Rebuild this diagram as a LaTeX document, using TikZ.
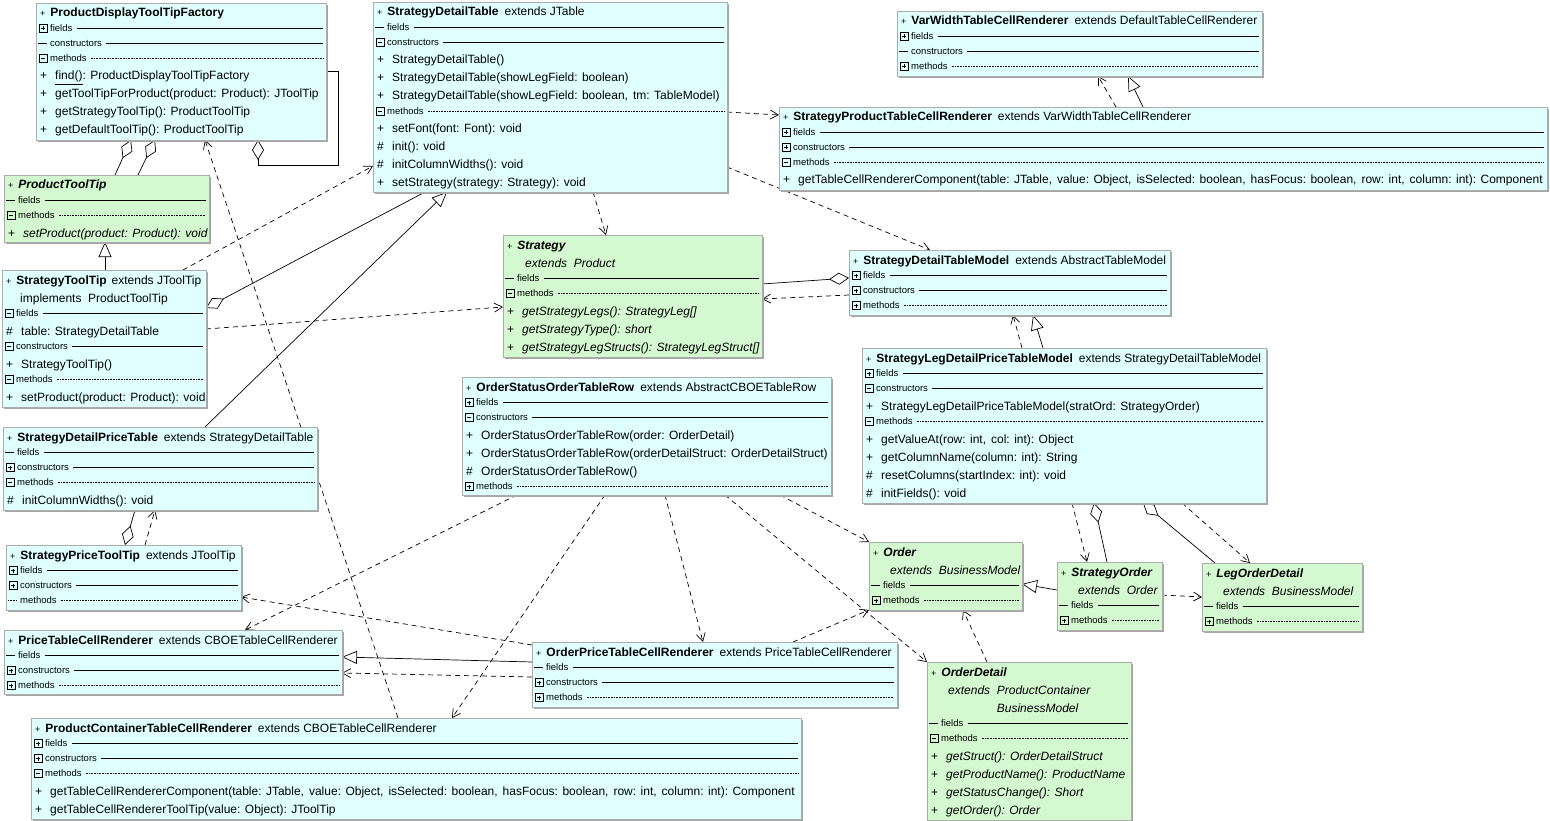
\documentclass[tikz,border=0pt]{standalone}
\usepackage{fontspec}
\setmainfont{Liberation Sans}
\usetikzlibrary{shapes,arrows.meta,shadows}

\definecolor{concretefill}{RGB}{224,255,255}
\definecolor{abstractfill}{RGB}{212,248,208}

\pgfdeclarelayer{edges}
\pgfsetlayers{edges,main}

\tikzstyle{classbox} = [rectangle, draw=gray!65, line width=0.6pt, inner sep=0pt, outer sep=0pt,
    anchor=north west, drop shadow={shadow xshift=1.6pt, shadow yshift=-1.6pt, fill=gray!70, opacity=1}]
\tikzstyle{rowtext} = [inner sep=0pt, anchor=base west, font=\fontsize{12}{14}\selectfont]
\tikzstyle{seclabel} = [inner sep=0pt, anchor=west, text height=6.5pt, text depth=0pt, font=\fontsize{9.5}{10}\selectfont]
\tikzstyle{secline} = [line width=0.6pt]
\tikzstyle{iconline} = [line width=0.6pt]
\tikzstyle{dep} = [draw, line width=0.7pt, dash pattern=on 5pt off 4pt, -{Straight Barb[length=8pt,width=9pt]}]
\tikzstyle{gen} = [draw, line width=0.7pt, -{Triangle[open,length=15pt,width=13pt]}]
\tikzstyle{aggr} = [draw, line width=0.7pt, -{Diamond[open,length=20pt,width=12pt]}]

% class box: name, left, top, right, bottom, fill
\newcommand{\classat}[6]{%
  \node[classbox, fill=#6, minimum width=#4pt-#2pt, minimum height=#5pt-#3pt] (#1) at (#2,#3) {};
  \def\clx{#2}\def\clr{#4}\def\cly{#3}}
\newcommand{\tplus}{{\fontsize{9}{10}\selectfont+}\hspace{5pt}}
\newcommand{\argsep}{,\hspace{5pt}}
\newcommand{\headrow}[1]{\node[rowtext] at (\clx+4,\cly+14) {#1};\pgfmathsetmacro\cly{\cly+18}}
\newcommand{\memrow}[2]{\node[rowtext] at (\clx+4,\cly+14) {#1};\node[rowtext] at (\clx+19,\cly+14) {#2};\pgfmathsetmacro\cly{\cly+18}}
\newcommand{\icop}{\draw[iconline] (\clx+3,\cly+3.5) rectangle (\clx+11,\cly+11.5);
  \draw[iconline] (\clx+5,\cly+7.5) -- (\clx+9,\cly+7.5) (\clx+7,\cly+5.5) -- (\clx+7,\cly+9.5);}
\newcommand{\icom}{\draw[iconline] (\clx+3,\cly+3.5) rectangle (\clx+11,\cly+11.5);
  \draw[iconline] (\clx+5,\cly+7.5) -- (\clx+9,\cly+7.5);}
\newcommand{\icoe}{\draw[iconline] (\clx+2,\cly+7.5) -- (\clx+11,\cly+7.5);}
\newcommand{\icod}{\draw[iconline,densely dotted] (\clx+2,\cly+7.5) -- (\clx+11,\cly+7.5);}
\newcommand{\secrow}[3]{\csname ico#1\endcsname
  \node[seclabel] (seclbl) at (\clx+14,\cly+7.5) {#2};
  \draw[secline,#3] ([xshift=4pt]seclbl.east) -- (\clr-3,\cly+7.5);
  \pgfmathsetmacro\cly{\cly+15}}

\begin{document}
\begin{tikzpicture}[x=1pt, y=-1pt]
    \useasboundingbox (0,0) rectangle (1550,821);
    % Place nodes
    \classat{PDTTF}{36}{3}{326}{140}{concretefill}
    \headrow{\tplus\textbf{ProductDisplayToolTipFactory}}
    \secrow{p}{fields}{}
    \secrow{e}{constructors}{}
    \secrow{m}{methods}{densely dotted}
    \memrow{+}{\underline{find()}: ProductDisplayToolTipFactory}
    \memrow{+}{getToolTipForProduct(product: Product): JToolTip}
    \memrow{+}{getStrategyToolTip(): ProductToolTip}
    \memrow{+}{getDefaultToolTip(): ProductToolTip}

    \classat{PTT}{4}{175}{209}{242}{abstractfill}
    \headrow{\tplus\textbf{\itshape ProductToolTip}}
    \secrow{e}{fields}{}
    \secrow{m}{methods}{densely dotted}
    \memrow{+}{\itshape setProduct(product: Product): void}

    \classat{STT}{2}{270}{206}{407}{concretefill}
    \headrow{\tplus\textbf{StrategyToolTip}\hspace{5pt}extends JToolTip}
    \headrow{\hspace{14pt}implements\ \ ProductToolTip}
    \secrow{m}{fields}{}
    \memrow{\#}{table: StrategyDetailTable}
    \secrow{m}{constructors}{}
    \memrow{+}{StrategyToolTip()}
    \secrow{m}{methods}{densely dotted}
    \memrow{+}{setProduct(product: Product): void}

    \classat{SDPT}{3}{427}{317}{510}{concretefill}
    \headrow{\tplus\textbf{StrategyDetailPriceTable}\hspace{6pt}extends StrategyDetailTable}
    \secrow{e}{fields}{}
    \secrow{p}{constructors}{}
    \secrow{m}{methods}{densely dotted}
    \memrow{\#}{initColumnWidths(): void}

    \classat{SPTT}{6}{545}{241}{610}{concretefill}
    \headrow{\tplus\textbf{StrategyPriceToolTip}\hspace{6pt}extends JToolTip}
    \secrow{p}{fields}{}
    \secrow{p}{constructors}{}
    \secrow{d}{methods}{densely dotted}

    \classat{PTCR}{4}{630}{342}{694}{concretefill}
    \headrow{\tplus\textbf{PriceTableCellRenderer}\hspace{6pt}extends CBOETableCellRenderer}
    \secrow{e}{fields}{}
    \secrow{p}{constructors}{}
    \secrow{p}{methods}{densely dotted}

    \classat{PCTCR}{31}{718}{801}{819}{concretefill}
    \headrow{\tplus\textbf{ProductContainerTableCellRenderer}\hspace{6pt}extends CBOETableCellRenderer}
    \secrow{p}{fields}{}
    \secrow{p}{constructors}{}
    \secrow{m}{methods}{densely dotted}
    \memrow{+}{getTableCellRendererComponent(table: JTable\argsep value: Object\argsep isSelected: boolean\argsep hasFocus: boolean\argsep row: int\argsep column: int): Component}
    \memrow{+}{getTableCellRendererToolTip(value: Object): JToolTip}

    \classat{SDT}{373}{2}{727}{192}{concretefill}
    \headrow{\tplus\textbf{StrategyDetailTable}\hspace{6pt}extends JTable}
    \secrow{e}{fields}{}
    \secrow{m}{constructors}{}
    \memrow{+}{StrategyDetailTable()}
    \memrow{+}{StrategyDetailTable(showLegField: boolean)}
    \memrow{+}{StrategyDetailTable(showLegField: boolean\argsep tm: TableModel)}
    \secrow{m}{methods}{densely dotted}
    \memrow{+}{setFont(font: Font): void}
    \memrow{\#}{init(): void}
    \memrow{\#}{initColumnWidths(): void}
    \memrow{+}{setStrategy(strategy: Strategy): void}

    \classat{VWTCR}{897}{11}{1262}{76}{concretefill}
    \headrow{\tplus\textbf{VarWidthTableCellRenderer}\hspace{6pt}extends DefaultTableCellRenderer}
    \secrow{p}{fields}{}
    \secrow{e}{constructors}{}
    \secrow{p}{methods}{densely dotted}

    \classat{SPTCR}{779}{107}{1547}{190}{concretefill}
    \headrow{\tplus\textbf{StrategyProductTableCellRenderer}\hspace{6pt}extends VarWidthTableCellRenderer}
    \secrow{p}{fields}{}
    \secrow{p}{constructors}{}
    \secrow{m}{methods}{densely dotted}
    \memrow{+}{getTableCellRendererComponent(table: JTable\argsep value: Object\argsep isSelected: boolean\argsep hasFocus: boolean\argsep row: int\argsep column: int): Component}

    \classat{STRAT}{503}{235}{762}{357}{abstractfill}
    \headrow{\tplus\textbf{\itshape Strategy}}
    \headrow{\hspace{18pt}\itshape extends\ \ Product}
    \secrow{e}{fields}{}
    \secrow{m}{methods}{densely dotted}
    \memrow{+}{\itshape getStrategyLegs(): StrategyLeg[]}
    \memrow{+}{\itshape getStrategyType(): short}
    \memrow{+}{\itshape getStrategyLegStructs(): StrategyLegStruct[]}

    \classat{SDTM}{849}{250}{1170}{315}{concretefill}
    \headrow{\tplus\textbf{StrategyDetailTableModel}\hspace{6pt}extends AbstractTableModel}
    \secrow{p}{fields}{}
    \secrow{p}{constructors}{}
    \secrow{p}{methods}{densely dotted}

    \classat{SLDPTM}{862}{348}{1266}{503}{concretefill}
    \headrow{\tplus\textbf{StrategyLegDetailPriceTableModel}\hspace{6pt}extends StrategyDetailTableModel}
    \secrow{p}{fields}{}
    \secrow{m}{constructors}{}
    \memrow{+}{StrategyLegDetailPriceTableModel(stratOrd: StrategyOrder)}
    \secrow{m}{methods}{densely dotted}
    \memrow{+}{getValueAt(row: int\argsep col: int): Object}
    \memrow{+}{getColumnName(column: int): String}
    \memrow{\#}{resetColumns(startIndex: int): void}
    \memrow{\#}{initFields(): void}

    \classat{OSOTR}{462}{377}{831}{495}{concretefill}
    \headrow{\tplus\textbf{OrderStatusOrderTableRow}\hspace{6pt}extends AbstractCBOETableRow}
    \secrow{p}{fields}{}
    \secrow{m}{constructors}{}
    \memrow{+}{OrderStatusOrderTableRow(order: OrderDetail)}
    \memrow{+}{OrderStatusOrderTableRow(orderDetailStruct: OrderDetailStruct)}
    \memrow{\#}{OrderStatusOrderTableRow()}
    \secrow{p}{methods}{densely dotted}

    \classat{OPTCR}{532}{642}{897}{707}{concretefill}
    \headrow{\tplus\textbf{OrderPriceTableCellRenderer}\hspace{6pt}extends PriceTableCellRenderer}
    \secrow{e}{fields}{}
    \secrow{p}{constructors}{}
    \secrow{p}{methods}{densely dotted}

    \classat{ORD}{869}{542}{1022}{610}{abstractfill}
    \headrow{\tplus\textbf{\itshape Order}}
    \headrow{\hspace{17pt}\itshape extends\ \ BusinessModel}
    \secrow{e}{fields}{}
    \secrow{p}{methods}{densely dotted}

    \classat{SO}{1057}{562}{1162}{630}{abstractfill}
    \headrow{\tplus\textbf{\itshape StrategyOrder}}
    \headrow{\hspace{17pt}\itshape extends\ \ Order}
    \secrow{e}{fields}{}
    \secrow{p}{methods}{densely dotted}

    \classat{LOD}{1202}{563}{1362}{631}{abstractfill}
    \headrow{\tplus\textbf{\itshape LegOrderDetail}}
    \headrow{\hspace{17pt}\itshape extends\ \ BusinessModel}
    \secrow{e}{fields}{}
    \secrow{p}{methods}{densely dotted}

    \classat{OD}{927}{662}{1131}{820}{abstractfill}
    \headrow{\tplus\textbf{\itshape OrderDetail}}
    \headrow{\hspace{17pt}\itshape extends\ \ ProductContainer}
    \headrow{\hspace{17pt}\itshape\phantom{extends\ \ }BusinessModel}
    \secrow{e}{fields}{}
    \secrow{m}{methods}{densely dotted}
    \memrow{+}{\itshape getStruct(): OrderDetailStruct}
    \memrow{+}{\itshape getProductName(): ProductName}
    \memrow{+}{\itshape getStatusChange(): Short}
    \memrow{+}{\itshape getOrder(): Order}

    % Draw edges
    \begin{pgfonlayer}{edges}
    \path [aggr] ([xshift=111pt]PTT.north west) -- ([xshift=95pt]PDTTF.south west);
    \path [aggr] ([xshift=134pt]PTT.north west) -- ([xshift=119pt]PDTTF.south west);
    \path [aggr] ([yshift=-68pt]PDTTF.north east) -- ++(12,0) -- ++(0,94) -- ++(-80,0) -- ([xshift=222pt]PDTTF.south west);
    \path [dep] ([xshift=367pt]PCTCR.north west) -- ([xshift=169pt]PDTTF.south west);
    \path [dep] ([xshift=181pt]STT.north west) -- ([yshift=-164pt]SDT.north west);
    \path [gen] ([xshift=103pt]STT.north west) -- ([xshift=101pt]PTT.south west);
    \path [aggr] ([xshift=52pt]SDT.south west) -- ([yshift=-38pt]STT.north east);
    \path [gen] ([xshift=202pt]SDPT.north west) -- ([xshift=74pt]SDT.south west);
    \path [dep] ([yshift=-59pt]STT.north east) -- ([yshift=-72pt]STRAT.north west);
    \path [dep] ([yshift=-110pt]SDT.north east) -- ([yshift=-8pt]SPTCR.north west);
    \path [dep] ([xshift=220pt]SDT.south west) -- ([xshift=103pt]STRAT.north west);
    \path [dep] ([yshift=-165pt]SDT.north east) -- ([xshift=81pt]SDTM.north west);
    \path [aggr] ([yshift=-49pt]STRAT.north east) -- ([yshift=-28pt]SDTM.north west);
    \path [dep] ([yshift=-45pt]SDTM.north west) -- ([yshift=-64pt]STRAT.north east);
    \path [gen] ([xshift=364pt]SPTCR.north west) -- ([xshift=231pt]VWTCR.south west);
    \path [dep] ([xshift=337pt]SPTCR.north west) -- ([xshift=201pt]VWTCR.south west);
    \path [gen] ([xshift=181pt]SLDPTM.north west) -- ([xshift=184pt]SDTM.south west);
    \path [dep] ([xshift=160pt]SLDPTM.north west) -- ([xshift=164pt]SDTM.south west);
    \path [aggr] ([xshift=50pt]SO.north west) -- ([xshift=232pt]SLDPTM.south west);
    \path [dep] ([xshift=210pt]SLDPTM.south west) -- ([xshift=30pt]SO.north west);
    \path [aggr] ([xshift=13pt]LOD.north west) -- ([xshift=281pt]SLDPTM.south west);
    \path [dep] ([xshift=320pt]SLDPTM.south west) -- ([xshift=48pt]LOD.north west);
    \path [gen] ([yshift=-28pt]SO.north west) -- ([yshift=-42pt]ORD.north east);
    \path [dep] ([yshift=-33pt]SO.north east) -- ([yshift=-34pt]LOD.north west);
    \path [dep] ([xshift=60pt]OD.north west) -- ([xshift=94pt]ORD.south west);
    \path [dep] ([xshift=318pt]OSOTR.south west) -- (ORD.north west);
    \path [dep] ([xshift=263pt]OSOTR.south west) -- (OD.north west);
    \path [dep] ([xshift=203pt]OSOTR.south west) -- ([xshift=171pt]OPTCR.north west);
    \path [dep] ([xshift=143pt]OSOTR.south west) -- ([xshift=421pt]PCTCR.north west);
    \path [dep] ([xshift=55pt]OSOTR.south west) -- ([xshift=241pt]PTCR.north west);
    \path [dep] ([xshift=261pt]OPTCR.north west) -- ([yshift=-68pt]ORD.north west);
    \path [gen] ([yshift=-20pt]OPTCR.north west) -- ([yshift=-27pt]PTCR.north east);
    \path [dep] ([yshift=-35pt]OPTCR.north west) -- ([yshift=-43pt]PTCR.north east);
    \path [dep] ([yshift=-3pt]OPTCR.north west) -- ([yshift=-52pt]SPTT.north east);
    \path [aggr] ([xshift=132pt]SDPT.south west) -- ([xshift=119pt]SPTT.north west);
    \path [dep] ([xshift=139pt]SPTT.north west) -- ([xshift=152pt]SDPT.south west);
    \end{pgfonlayer}
\end{tikzpicture}
\end{document}
